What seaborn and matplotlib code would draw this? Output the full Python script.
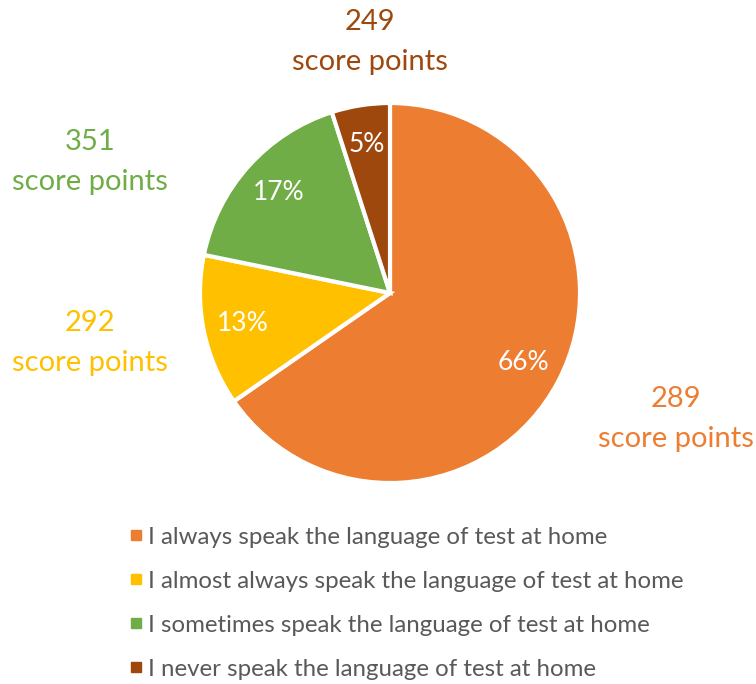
import matplotlib
matplotlib.use("Agg")
from matplotlib import pyplot as plt
from matplotlib.lines import Line2D
import seaborn as sns

sns.set_theme(style="white")
plt.rcParams['font.family'] = ['Lato', 'DejaVu Sans']

categories = ['I always speak the language of test at home',
              'I almost always speak the language of test at home',
              'I sometimes speak the language of test at home',
              'I never speak the language of test at home']
shares = [66, 13, 17, 5]
scores = [289, 292, 351, 249]
colors = sns.color_palette(['#ED7D31', '#FFC000', '#70AD47', '#9E480E'])

# where the score labels sit (pixel coords, y from top)
score_pos = [(676, 419), (90, 343), (90, 162), (370, 42)]

W, H = 756, 684
fig = plt.figure(figsize=(W / 100, H / 100), dpi=100)
ax = fig.add_axes([0, 0, 1, 1])

total = sum(shares)
wedges, _, pcts = ax.pie(
    shares, colors=colors, startangle=90, counterclock=False,
    center=(390, H - 293), radius=190,
    autopct=lambda p: f"{round(p * total / 100):.0f}%",
    pctdistance=0.79, frame=True,
    wedgeprops=dict(edgecolor='white', linewidth=3),
    textprops=dict(color='white', fontsize=19))
ax.set_xlim(0, W)
ax.set_ylim(0, H)
ax.set_aspect('equal')
ax.axis('off')

for s, c, (x, y) in zip(scores, colors, score_pos):
    ax.text(x, H - y, f"{s}\nscore points", color=c, fontsize=21,
            ha='center', va='center', linespacing=1.65)

handles = [Line2D([], [], marker='s', linestyle='none', markersize=7,
                  markerfacecolor=c, markeredgecolor=c) for c in colors]
leg = ax.legend(handles, categories, loc='upper left',
                bbox_to_anchor=(118 / W, 1 - 517 / H), frameon=False,
                fontsize=17.3, labelspacing=0.96, handlelength=0.7,
                handletextpad=0.15, borderaxespad=0)
for t in leg.get_texts():
    t.set_color('#595959')

fig.savefig('out.png', dpi=100)
